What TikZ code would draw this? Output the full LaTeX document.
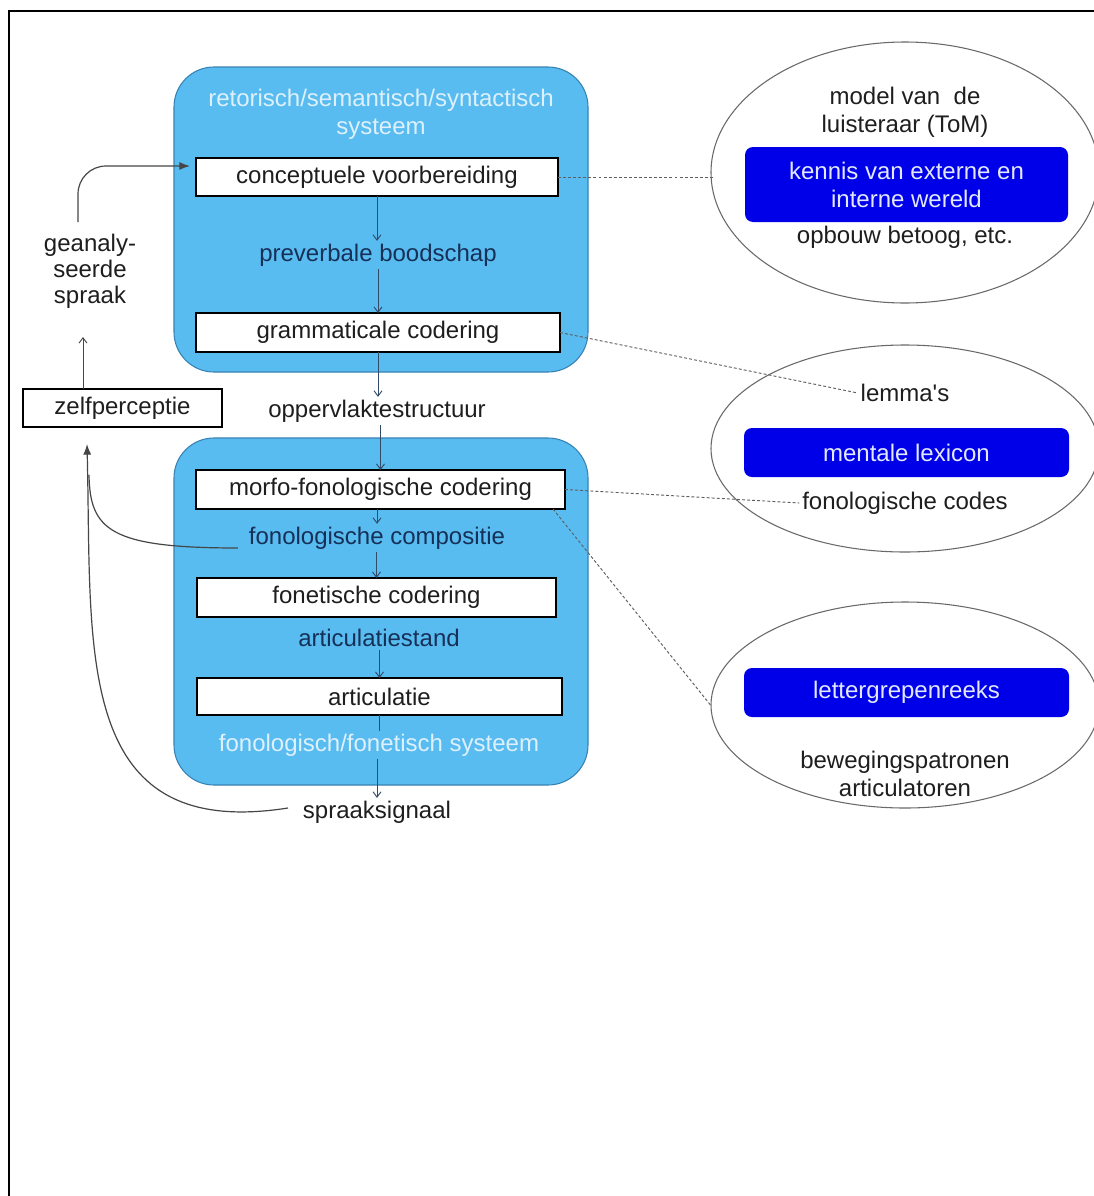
\documentclass[tikz,border=0pt]{standalone}
\usepackage{fontspec}
\setmainfont{Liberation Sans}
\usetikzlibrary{shapes.geometric,arrows.meta}
\definecolor{skyfill}{RGB}{88,188,240}
\definecolor{sysedge}{RGB}{55,130,180}
\definecolor{lexblue}{RGB}{0,0,232}
\definecolor{lexfg}{RGB}{226,232,255}
\definecolor{titlecol}{RGB}{222,240,252}
\definecolor{navytext}{RGB}{22,48,88}
\definecolor{textblack}{RGB}{30,30,30}
\definecolor{ellgray}{RGB}{105,105,105}
\definecolor{dashgray}{RGB}{95,95,95}
\definecolor{arrcol}{RGB}{50,75,105}
\definecolor{fbgray}{RGB}{70,70,70}
\newcommand\pxu{0.75pt}
\begin{document}
\begin{tikzpicture}[x=0.75pt,y=-0.75pt,
  font=\fontsize{18pt}{21pt}\selectfont,
  sysbox/.style={draw=sysedge, fill=skyfill, rounded corners=30pt, line width=0.8pt, inner sep=0pt, outer sep=0pt},
  stagebox/.style={draw=black, fill=white, line width=1.8pt, inner sep=0pt, outer sep=0pt, text=textblack},
  lexbox/.style={fill=lexblue, rounded corners=6pt, text=lexfg, align=center, inner sep=0pt},
  memell/.style={ellipse, draw=ellgray, line width=0.8pt, inner sep=0pt},
  flowarr/.style={draw=arrcol, line width=0.7pt, -{Straight Barb[length=4pt,width=6pt]}},
  flowline/.style={draw=arrcol, line width=0.7pt},
  link/.style={draw=dashgray, line width=0.7pt, dash pattern=on 2.2pt off 1.6pt},
  fbline/.style={draw=fbgray, line width=0.9pt},
  lbl/.style={inner sep=2pt, align=center, text=textblack},
  navylbl/.style={lbl, text=navytext},
  whitelbl/.style={lbl, text=titlecol}
]
\clip (0,0) rectangle (1094,1196);
\fill[white] (0,0) rectangle (1094,1196);
% frame
\draw[line width=1.5pt] (8,11) -- (1094,11);
\draw[line width=2.2pt] (9,11) -- (9,1196);

% ellipses
\node[memell, minimum width=388*\pxu, minimum height=261*\pxu] (ell1) at (905,172.5) {};
\node[memell, minimum width=388*\pxu, minimum height=207*\pxu] (ell2) at (905,448.5) {};
\node[memell, minimum width=388*\pxu, minimum height=206*\pxu] (ell3) at (905,705) {};

% system boxes
\node[sysbox, minimum width=414*\pxu, minimum height=305*\pxu] (upsys) at (381,219.5) {};
\node[sysbox, minimum width=414*\pxu, minimum height=347*\pxu] (lowsys) at (381,611.5) {};

\node[whitelbl] (ttl) at (381,114) {retorisch/semantisch/syntactisch\\systeem};
\node[whitelbl] (fonsys) at (379,745) {fonologisch/fonetisch systeem};

% stages
\node[stagebox, minimum width=362*\pxu, minimum height=38*\pxu] (concept) at (377,177) {conceptuele voorbereiding};
\node[navylbl] (preverbal) at (378,255) {preverbale boodschap};
\node[stagebox, minimum width=364*\pxu, minimum height=39*\pxu] (gramm) at (378,332.5) {grammaticale codering};
\node[lbl] (opper) at (377,411) {oppervlaktestructuur};
\node[stagebox, minimum width=369*\pxu, minimum height=39*\pxu] (morfo) at (380.5,489.5) {morfo-fonologische codering};
\node[navylbl] (fonocomp) at (377,538) {fonologische compositie};
\node[stagebox, minimum width=359*\pxu, minimum height=39*\pxu] (fonet) at (376.5,597.5) {fonetische codering};
\node[navylbl] (artstand) at (379,638) {articulatiestand};
\node[stagebox, minimum width=365*\pxu, minimum height=37*\pxu] (artic) at (379.5,696.5) {articulatie};
\node[lbl] (spraak) at (377,812) {spraaksignaal};

% left side
\node[stagebox, line width=1.6pt, minimum width=199*\pxu, minimum height=38*\pxu] (zelf) at (122.5,408) {zelfperceptie};
\node[lbl, font=\fontsize{18pt}{19.5pt}\selectfont] (geana) at (90,271) {geanaly-\\seerde\\spraak};

% lexical stores
\node[lbl] (model) at (905,112) {model van~ de\\luisteraar (ToM)};
\node[lexbox, minimum width=323*\pxu, minimum height=75*\pxu] (kennis) at (906.5,184.5) {kennis van externe en\\interne wereld};
\node[lbl] (opbouw) at (905,237) {opbouw betoog, etc.};
\node[lbl] (lemma) at (905,393) {lemma\textquotesingle s};
\node[lexbox, minimum width=325*\pxu, minimum height=49*\pxu] (mental) at (906.5,452.5) {mentale lexicon};
\node[lbl] (fonocodes) at (905,503) {fonologische codes};
\node[lexbox, minimum width=325*\pxu, minimum height=49*\pxu] (letter) at (906.5,692.5) {lettergrepenreeks};
\node[lbl] (beweg) at (905,773.5) {bewegingspatronen\\articulatoren};

% flow arrows
\draw[flowarr] (concept.south) -- (concept.south |- preverbal.north);
\draw[flowarr] (preverbal.south -| gramm.north) -- (gramm.north);
\draw[flowarr] (gramm.south) -- (gramm.south |- opper.north);
\draw[flowarr] (opper.south -| morfo.north) -- (morfo.north);
\draw[flowarr] (morfo.south -| fonocomp.north) -- (fonocomp.north);
\draw[flowarr] (fonocomp.south -| fonet.north) -- (fonet.north);
\draw[flowarr] (artstand.south -| artic.north) -- (artic.north);
\draw[flowline] (artic.south) -- (artic.south |- fonsys.north);
\draw[flowarr] (fonsys.south -| spraak.north) -- (spraak.north);

% dashed links
\draw[link] (concept.east) -- ([shift={(4,0)}]concept.east -| ell1.west);
\draw[link] (gramm.east) -- (lemma.west);
\draw[link] (morfo.east) -- (fonocodes.west);
\draw[link] ([shift={(-12,0)}]morfo.south east) -- (ell3.west);

% feedback loop
\coordinate (geanabot) at (83,337);
\coordinate (geanatop) at (78,222);
\coordinate (zelfin) at (87,444);
\draw[flowarr, draw=fbgray] (zelf.north -| geanabot) -- (geanabot);
\draw[fbline, -{Latex[length=8pt,width=6pt]}, rounded corners=21pt] (geanatop) |- ([shift={(-6,-11)}]concept.west);
\draw[fbline, -{Latex[length=8pt,width=6pt]}] ([shift={(-12,-4)}]spraak.west) .. controls (72,842) and (92,650) .. (zelfin);
\draw[fbline] ([shift={(-8,10)}]fonocomp.west) .. controls (110,548) and (90,530) .. (89,475);
\end{tikzpicture}
\end{document}
